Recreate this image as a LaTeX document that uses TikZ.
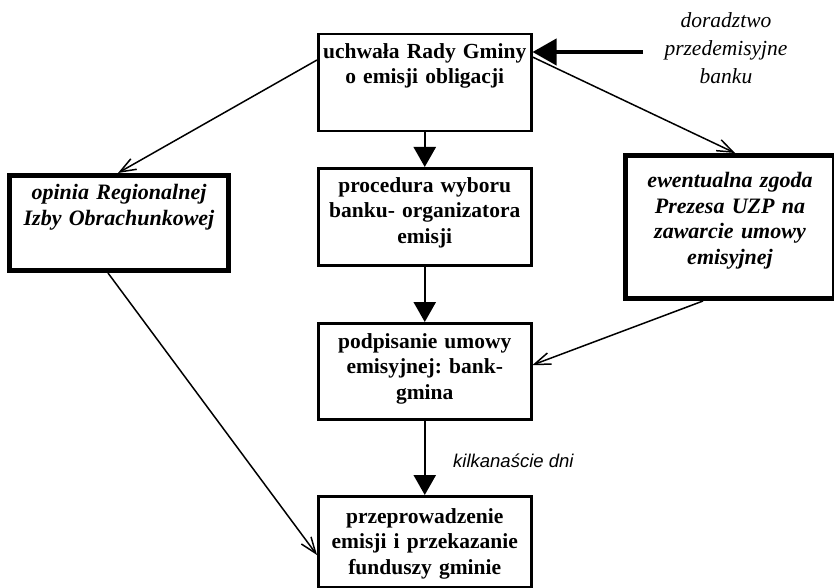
\documentclass[tikz,border=0pt]{standalone}
\usepackage{fontspec}
\setmainfont{Liberation Serif}
\newfontfamily\helv{Liberation Sans}
\usetikzlibrary{arrows.meta,calc}
\frenchspacing
\begin{document}
\begin{tikzpicture}[x=1pt,y=-1pt,
  box/.style={draw, line width=2.5pt, inner sep=0pt, align=center, anchor=north west,
    font=\fontsize{21.5}{25.5}\selectfont\bfseries},
  thickbox/.style={box, line width=5pt, font=\fontsize{22}{25.5}\selectfont\bfseries\itshape},
  bigarrow/.style={line width=2.5pt, -{Triangle[length=20pt,width=22pt]}},
  advarrow/.style={line width=4pt, -{Triangle[length=24pt,width=26pt]}},
  thinarrow/.style={line width=1.5pt, -{Straight Barb[length=16pt,width=12pt]}}
]
\useasboundingbox (0,0) rectangle (834,588);

\node[box, text width=213pt, text height=24pt, text depth=73pt] (A) at (317,33)
  {uchwała Rady Gminy\\o emisji obligacji};
\node[thickbox, text width=219pt, text height=24pt, text depth=71pt] (B) at (7,173)
  {opinia Regionalnej\\Izby Obrachunkowej};
\node[box, text width=213pt, text height=24pt, text depth=73pt] (C) at (317,167)
  {procedura wyboru\\banku- organizatora\\emisji};
\node[thickbox, text width=209pt, text height=32pt, text depth=111pt] (D) at (623,153)
  {ewentualna zgoda\\Prezesa UZP na\\zawarcie umowy\\emisyjnej};
\node[box, text width=213pt, text height=25pt, text depth=71pt] (E) at (317,322)
  {podpisanie umowy\\emisyjnej: bank-\\gmina};
\node[box, text width=213pt, text height=27pt, text depth=64pt] (F) at (317,495)
  {przeprowadzenie\\emisji i przekazanie\\funduszy gminie};

\node[font=\fontsize{21.5}{28}\selectfont\itshape, align=center, anchor=center] (adv) at (726,48)
  {doradztwo\\przedemisyjne\\banku};
\node[font=\helv\itshape\fontsize{18.5}{22}\selectfont, anchor=base west, inner sep=0pt] (k) at (453,467)
  {kilkanaście dni};

\coordinate (src) at (643,52);

\draw[bigarrow] (A.south) -- (C.north);
\draw[bigarrow] (C.south) -- (E.north);
\draw[bigarrow] (E.south) -- (F.north);
\draw[advarrow] (src) -- ($(A.north east)+(0,19)$);

\draw[thinarrow] ($(A.north west)+(0,27)$) -- ($(B.north west)+(111,0)$);
\draw[thinarrow] ($(A.north east)+(0,24)$) -- ($(D.north west)+(112,0)$);
\draw[thinarrow] ($(D.south west)+(80,0)$) -- ($(E.north east)+(0,43)$);
\draw[thinarrow] ($(B.south west)+(101,0)$) -- ($(F.north west)+(0,60)$);
\end{tikzpicture}
\end{document}
